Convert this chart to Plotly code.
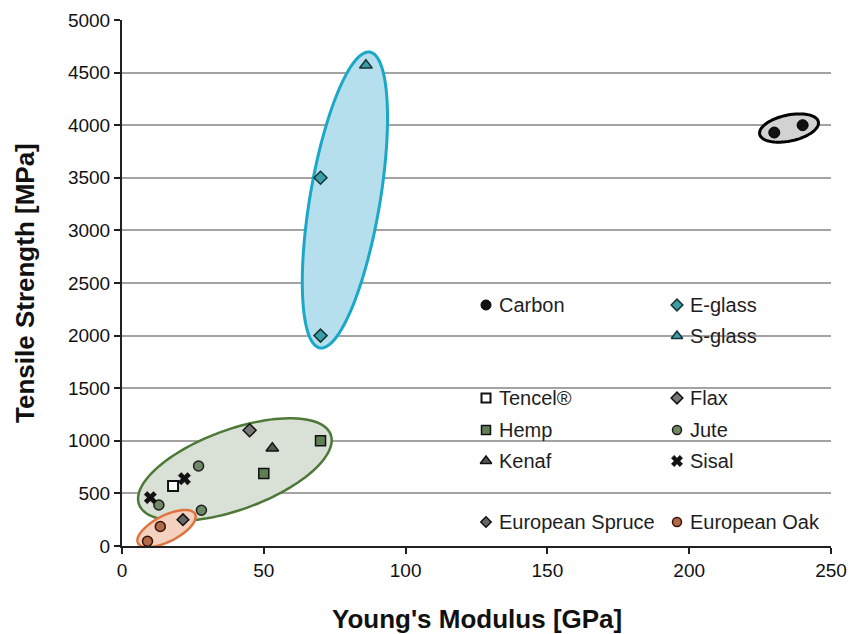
import numpy as np
import plotly.graph_objects as go

# ---------------- data ----------------
carbon_x = [230, 240]
carbon_y = [3930, 4000]
eglass_x = [70, 70]
eglass_y = [3500, 2000]
sglass_x = [86]
sglass_y = [4570]
tencel_x = [18]
tencel_y = [570]
flax_x = [45]
flax_y = [1100]
hemp_x = [70, 50]
hemp_y = [1000, 690]
jute_x = [27, 13, 28]
jute_y = [760, 390, 340]
kenaf_x = [53]
kenaf_y = [930]
sisal_x = [22, 10]
sisal_y = [640, 460]
spruce_x = [21.5]
spruce_y = [250]
oak_x = [13.5, 9]
oak_y = [185, 45]

x_ticks = [0, 50, 100, 150, 200, 250]
y_ticks = [0, 500, 1000, 1500, 2000, 2500, 3000, 3500, 4000, 4500, 5000]

x_title = "Young's Modulus [GPa]"
y_title = "Tensile Strength [MPa]"

# ---------------- layout geometry ----------------
W, H = 864, 634
ML, MR, MT, MB = 122, 33, 20, 88
PW = W - ML - MR
PH = H - MT - MB
XMAX, YMAX = 250, 5000
FONT = "Liberation Sans, Arial, sans-serif"


def paper_x(px):
    return (px - ML) / PW


def paper_y(py):
    return (H - MB - py) / PH


series = [
    dict(name="Carbon", x=carbon_x, y=carbon_y, symbol="circle", size=11, fill="#111111", line="#000000", lw=1),
    dict(name="E-glass", x=eglass_x, y=eglass_y, symbol="diamond", size=10, fill="#3c9ea6", line="#153535", lw=1.5),
    dict(name="S-glass", x=sglass_x, y=sglass_y, symbol="triangle-up", size=11, fill="#3c9ea6", line="#153535", lw=1.5),
    dict(name="Tencel®", x=tencel_x, y=tencel_y, symbol="square", size=10, fill="#ffffff", line="#111111", lw=2),
    dict(name="Flax", x=flax_x, y=flax_y, symbol="diamond", size=10, fill="#777777", line="#111111", lw=1.5),
    dict(name="Hemp", x=hemp_x, y=hemp_y, symbol="square", size=10, fill="#5f7e55", line="#111111", lw=1.5),
    dict(name="Jute", x=jute_x, y=jute_y, symbol="circle", size=10, fill="#6e8966", line="#1c1c1c", lw=1.5),
    dict(name="Kenaf", x=kenaf_x, y=kenaf_y, symbol="triangle-up", size=11, fill="#555555", line="#111111", lw=1.5),
    dict(name="Sisal", x=sisal_x, y=sisal_y, symbol="x", size=11, fill="#111111", line="#111111", lw=0.5),
    dict(name="European Spruce", x=spruce_x, y=spruce_y, symbol="diamond", size=9, fill="#666666", line="#111111", lw=1.5),
    dict(name="European Oak", x=oak_x, y=oak_y, symbol="circle", size=10, fill="#b06a4a", line="#3a1208", lw=1.5),
]

# legend placement (pixel coordinates within the page)
legend_pos = {
    "Carbon": (486, 305), "E-glass": (677, 305), "S-glass": (677, 336),
    "Tencel®": (486, 398), "Flax": (677, 398),
    "Hemp": (486, 430), "Jute": (677, 430),
    "Kenaf": (486, 461), "Sisal": (677, 461),
    "European Spruce": (486, 522), "European Oak": (677, 522),
}

fig = go.Figure()

for s in series:
    fig.add_trace(go.Scatter(
        x=s["x"], y=s["y"], mode="markers", name=s["name"], showlegend=False,
        marker=dict(symbol=s["symbol"], size=s["size"], color=s["fill"],
                    line=dict(color=s["line"], width=s["lw"])),
        hoverinfo="x+y+name",
    ))

# custom legend on overlay pixel axes
for s in series:
    px, py = legend_pos[s["name"]]
    fig.add_trace(go.Scatter(
        x=[px], y=[py], xaxis="x2", yaxis="y2", mode="markers", showlegend=False,
        hoverinfo="skip",
        marker=dict(symbol=s["symbol"], size=s["size"] - 1, color=s["fill"],
                    line=dict(color=s["line"], width=s["lw"])),
    ))
    fig.add_annotation(x=px + 11, y=py, xref="x2", yref="y2", text=s["name"],
                       showarrow=False, xanchor="left", yanchor="middle",
                       font=dict(family=FONT, size=20, color="#1e1e1e"))

# axis titles (placed in paper coordinates)
fig.add_annotation(x=0.5, y=paper_y(619), xref="paper", yref="paper",
                   text=f"<b>{x_title}</b>", showarrow=False,
                   xanchor="center", yanchor="middle",
                   font=dict(family=FONT, size=26, color="#111111"))
fig.add_annotation(x=paper_x(25), y=0.5, xref="paper", yref="paper",
                   text=f"<b>{y_title}</b>", showarrow=False, textangle=-90,
                   xanchor="center", yanchor="middle",
                   font=dict(family=FONT, size=26, color="#111111"))

# ---------------- ellipses ----------------
def ellipse_path(cx, cy, a_px, b_px, ang_deg, n=120):
    t = np.linspace(0, 2 * np.pi, n)
    th = np.radians(ang_deg)
    dx = a_px * np.cos(t) * np.cos(th) - b_px * np.sin(t) * np.sin(th)
    dy = a_px * np.cos(t) * np.sin(th) + b_px * np.sin(t) * np.cos(th)
    xs = cx + dx * XMAX / PW
    ys = cy + dy * YMAX / PH
    pts = [f"{x:.3f},{y:.3f}" for x, y in zip(xs, ys)]
    return "M " + " L ".join(pts) + " Z"

ellipses = [
    dict(c=(39.8, 727), a=102, b=40, ang=20, fill="#d9e0d5", line="#4d7838", lw=2.5),
    dict(c=(15.7, 166), a=32, b=13, ang=27, fill="#f5d1c0", line="#de7440", lw=2.5),
    dict(c=(78.6, 3289), a=150, b=35, ang=80.4, fill="#b5dfec", line="#1ba8c7", lw=3),
    dict(c=(235.2, 3973), a=30, b=13, ang=12, fill="#d2d2d2", line="#000000", lw=3),
]
for e in ellipses:
    fig.add_shape(type="path", xref="x", yref="y",
                  path=ellipse_path(e["c"][0], e["c"][1], e["a"], e["b"], e["ang"]),
                  fillcolor=e["fill"], line=dict(color=e["line"], width=e["lw"]),
                  layer="between")

fig.update_layout(
    width=W, height=H,
    margin=dict(l=ML, r=MR, t=MT, b=MB, pad=0, autoexpand=False),
    paper_bgcolor="white", plot_bgcolor="white",
    font=dict(family=FONT, color="#111111"),
    showlegend=False,
    xaxis=dict(
        range=[0, XMAX], tickvals=x_ticks, ticktext=[str(v) for v in x_ticks],
        showgrid=False, zeroline=False, automargin=False,
        showline=True, linecolor="#202020", linewidth=2,
        ticks="outside", ticklen=6, tickwidth=1.5, tickcolor="#202020",
        tickfont=dict(family=FONT, size=19, color="#111111"),
    ),
    yaxis=dict(
        range=[0, YMAX], tickvals=y_ticks, ticktext=[str(v) for v in y_ticks],
        showgrid=True, gridcolor="#a3a3a3", gridwidth=2,
        zeroline=False, automargin=False,
        showline=True, linecolor="#202020", linewidth=2,
        ticks="outside", ticklen=6, tickwidth=1.5, tickcolor="#202020",
        tickfont=dict(family=FONT, size=19, color="#111111"),
    ),
    xaxis2=dict(overlaying="x", range=[ML, W - MR], visible=False, fixedrange=True),
    yaxis2=dict(overlaying="y", range=[H - MB, MT], visible=False, fixedrange=True),
)

fig.write_html("out.html")
